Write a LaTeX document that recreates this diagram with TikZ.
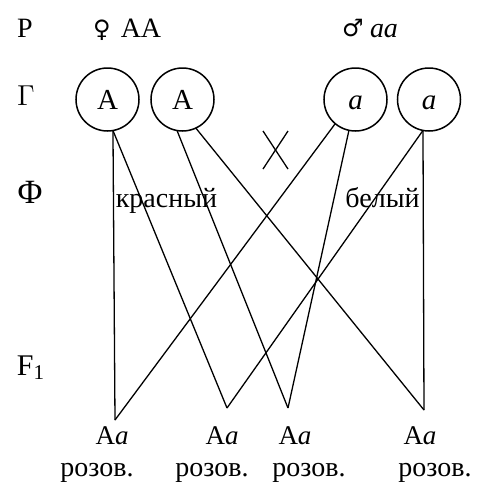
\documentclass[tikz,border=0pt]{standalone}
\usepackage{fontspec}
\setmainfont{Liberation Serif}
\newfontfamily\symfont{DejaVu Sans}

\begin{document}
\begin{tikzpicture}[x=0.5pt,y=-0.5pt,
        every node/.style={inner sep=0pt,outer sep=0pt},
        gam/.style={circle,draw,line width=0.75pt,minimum size=31.5pt,text height=10pt,text depth=0pt,font=\fontsize{14.5}{18}\selectfont},
        lbl/.style={anchor=base,font=\fontsize{14}{17}\selectfont},
        phen/.style={anchor=base,font=\fontsize{14}{17}\selectfont},
        geno/.style={anchor=base,font=\fontsize{13.5}{16}\selectfont},
        link/.style={line width=0.65pt}]
        \useasboundingbox (0,0) rectangle (491,494);
        % row labels
        \node[lbl] (p) at (25,37) {P};
        \node[lbl,font=\fontsize{15}{18}\selectfont] (g) at (26,105) {$\Gamma$};
        \node[lbl,font=\fontsize{17}{20}\selectfont] (f) at (30,203) {Φ};
        \node[lbl,anchor=base west,font=\fontsize{15}{18}\selectfont] (f1) at (17,375) {F\textsubscript{1}};
        % parents
        \node[font=\fontsize{12}{15}\selectfont\symfont] (fem) at (102,30) {♀};
        \node[lbl] (pAA) at (141,37) {AA};
        \node[font=\fontsize{12}{15}\selectfont\symfont] (mal) at (353,28) {♂};
        \node[lbl] (paa) at (384,37) {\textit{aa}};
        % gametes
        \node[gam] (g1) at (107.5,99.5) {A};
        \node[gam] (g2) at (182.5,99.5) {A};
        \node[gam] (g3) at (355.5,99.5) {\textit{a}};
        \node[gam] (g4) at (429,99.5) {\textit{a}};
        \draw[link] (263,131) -- (288,169);
        \draw[link] (288,131) -- (263,169);
        % phenotypes
        \node[phen] (red) at (166.5,207) {красный};
        \node[phen] (white) at (382.5,207) {белый};
        % offspring
        \coordinate (o1) at (115,420);
        \coordinate (o2) at (227,408);
        \coordinate (o3) at (288,408);
        \coordinate (o4) at (424,410);
        \node[geno] (a1) at (112,444) {A\textit{a}};
        \node[geno] (a2) at (222,444) {A\textit{a}};
        \node[geno] (a3) at (295,444) {A\textit{a}};
        \node[geno] (a4) at (420,444) {A\textit{a}};
        \node[phen] (r1) at (97,476) {розов.};
        \node[phen] (r2) at (212,476) {розов.};
        \node[phen] (r3) at (309,476) {розов.};
        \node[phen] (r4) at (435,476) {розов.};
        \draw[link] (g1.-80) -- (o1);
        \draw[link] (g1.-80) -- (o2);
        \draw[link] (g2.-100) -- (o3);
        \draw[link] (g2.-65) -- (o4);
        \draw[link] (g3.-130) -- (o1);
        \draw[link] (g3.-102) -- (o3);
        \draw[link] (g4.-101) -- (o2);
        \draw[link] (g4.-101) -- (o4);
\end{tikzpicture}
\end{document}
